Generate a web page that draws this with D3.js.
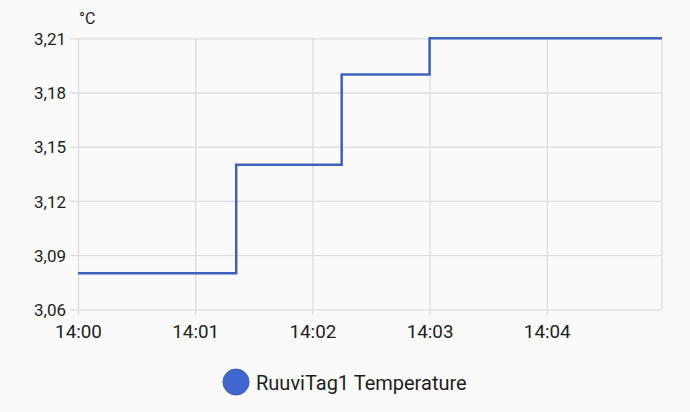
<!DOCTYPE html>
<html>
<head>
<meta charset="utf-8">
<script src="https://cdn.jsdelivr.net/npm/d3@7"></script>
<style>
  html, body { margin: 0; padding: 0; background: #fafafa; }
  svg { display: block; font-family: Roboto, "Noto Sans", sans-serif; }
</style>
</head>
<body>
<svg id="chart" width="690" height="412"></svg>
<script>
// ---- data ----
const times = ["14:00:00", "14:01:21", "14:02:15", "14:03:00", "14:04:59"];
const temps = [3.08, 3.14, 3.19, 3.21, 3.21];
const yTicks = [3.06, 3.09, 3.12, 3.15, 3.18, 3.21];
const xTickLabels = ["14:00", "14:01", "14:02", "14:03", "14:04"];
const seriesName = "RuuviTag1 Temperature";
const unit = "°C";

// ---- setup ----
const FONT = "Roboto, 'Noto Sans', sans-serif";
const parse = d3.timeParse("%H:%M:%S");
const parseHM = d3.timeParse("%H:%M");
const data = times.map((t, i) => ({ t: parse(t), v: temps[i] }));
const locale = d3.formatLocale({ decimal: ",", thousands: ".", grouping: [3], currency: ["", "€"] });
const fmt = locale.format(".2f");

const svg = d3.select("#chart");
const L = 78, R = 662, T = 38.3, B = 309.3;
const x = d3.scaleTime().domain([data[0].t, data[data.length - 1].t]).range([L, R]);
const y = d3.scaleLinear().domain([3.06, 3.21]).range([B, T]);

const grid = "#dcdcdc";
const textCol = "#1e1e1e";

// horizontal gridlines + y axis
const yAxis = d3.axisLeft(y).tickValues(yTicks).tickSize(8).tickPadding(4).tickFormat(fmt);
const gy = svg.append("g").attr("transform", `translate(${L},0)`).call(yAxis)
  .attr("font-family", FONT);
gy.select(".domain").remove();
gy.selectAll(".tick line").attr("x2", R - L).attr("x1", -8).attr("stroke", grid).attr("stroke-width", 1.3);
gy.selectAll(".tick text").attr("fill", textCol).attr("font-size", 17).attr("dy", "0.36em");

// vertical gridlines + x axis
const xTickDates = xTickLabels.map(parseHM);
const xAxis = d3.axisBottom(x).tickValues(xTickDates).tickSize(6).tickPadding(9).tickFormat(d3.timeFormat("%H:%M"));
const gx = svg.append("g").attr("transform", `translate(0,${B})`).call(xAxis)
  .attr("font-family", FONT);
gx.select(".domain").remove();
gx.selectAll(".tick line").attr("y1", -(B - T)).attr("y2", 6).attr("stroke", grid).attr("stroke-width", 1.3);
gx.selectAll(".tick text").attr("fill", textCol).attr("font-size", 18.8);

// right border
svg.append("line").attr("x1", R).attr("x2", R).attr("y1", T).attr("y2", B)
  .attr("stroke", grid).attr("stroke-width", 1.3);

// unit label
svg.append("text").attr("x", 79).attr("y", 24).attr("fill", textCol)
  .attr("font-family", FONT).attr("font-size", 16).text(unit);

// line
const line = d3.line().x(d => x(d.t)).y(d => y(d.v)).curve(d3.curveStepAfter);
svg.append("path").datum(data).attr("d", line)
  .attr("fill", "none").attr("stroke", "#3e61bd").attr("stroke-width", 2.5);

// legend
const lg = svg.append("g");
lg.append("circle").attr("cx", 236).attr("cy", 382).attr("r", 13)
  .attr("fill", "#4066d0").attr("stroke", "#3a5cb8").attr("stroke-width", 1);
lg.append("text").attr("x", 256).attr("y", 389.5).attr("fill", textCol)
  .attr("font-family", FONT).attr("font-size", 20).text(seriesName);
</script>
</body>
</html>
